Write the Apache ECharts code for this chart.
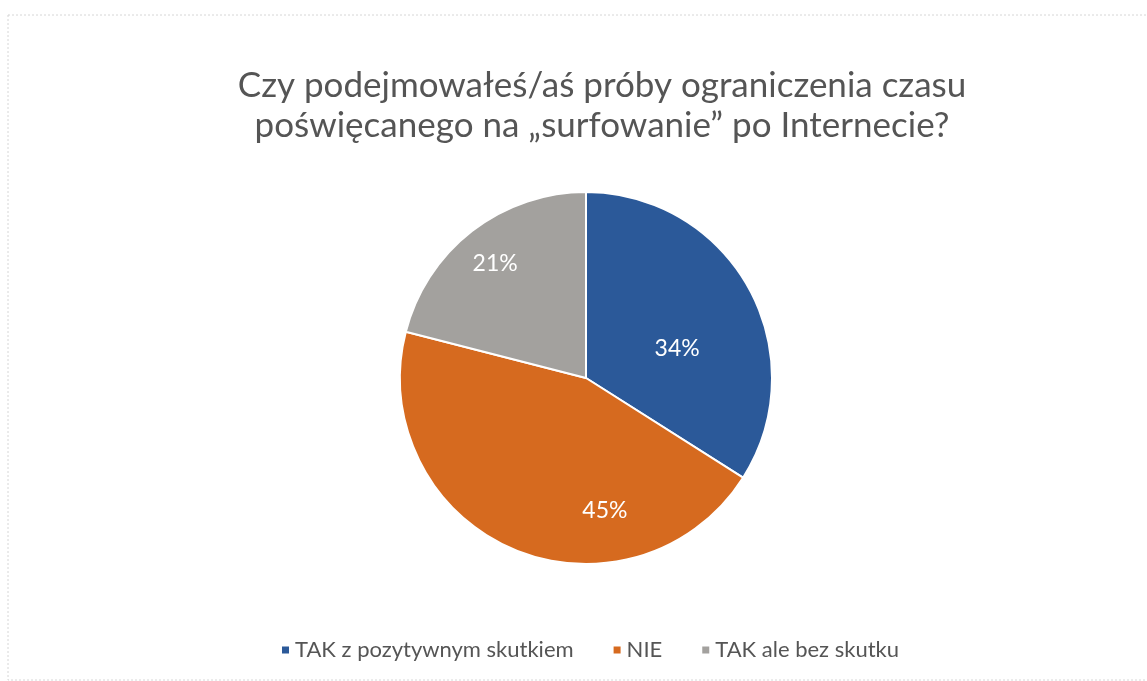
<!DOCTYPE html>
<html>
<head>
<meta charset="utf-8">
<script src="https://cdn.jsdelivr.net/npm/echarts@6/dist/echarts.min.js"></script>
<style>
  html, body { margin: 0; padding: 0; background: #fff; }
  #chart { width: 1147px; height: 681px; }
</style>
</head>
<body>
<div id="chart"></div>
<script>
const titleText = 'Czy podejmowałeś/aś próby ograniczenia czasu\npoświęcanego na „surfowanie” po Internecie?';
const categories = ['TAK z pozytywnym skutkiem', 'NIE', 'TAK ale bez skutku'];
const values = [34, 45, 21];
const colors = ['#2b5999', '#d66a1f', '#a3a19e'];

// label nudges to mimic Excel "best fit" placement
const labelShift = [[7, 17], [57, 44], [-32, -39]];

const chart = echarts.init(document.getElementById('chart'));

let pieData = [];
for (let i = 0; i < categories.length; i++) {
    pieData.push({ name: categories[i], value: values[i] });
}

chart.setOption({
    backgroundColor: '#fff',
    color: colors,
    title: {
        text: titleText,
        left: 597,
        top: 61,
        textAlign: 'center',
        textStyle: {
            fontFamily: 'Lato',
            fontWeight: 'normal',
            fontSize: 35,
            lineHeight: 40,
            color: '#555'
        }
    },
    legend: {
        data: categories,
        left: 275,
        top: 634,
        icon: 'rect',
        itemWidth: 9,
        itemHeight: 9,
        itemGap: 38,
        textStyle: {
            fontFamily: 'Lato',
            fontSize: 22,
            color: '#555'
        }
    },
    graphic: [
        {
            type: 'rect',
            shape: { x: 8, y: 15, width: 1150, height: 665 },
            style: { fill: 'none', stroke: '#d6d6d6', lineWidth: 1, lineDash: [2, 2] },
            silent: true
        }
    ],
    series: [
        {
            type: 'pie',
            center: [586, 378],
            radius: 186,
            startAngle: 90,
            clockwise: true,
            data: pieData,
            itemStyle: {
                borderColor: '#fff',
                borderWidth: 2
            },
            label: {
                position: 'inside',
                formatter: '{c}%',
                fontFamily: 'Lato',
                fontSize: 23,
                color: '#fff'
            },
            labelLayout: function (params) {
                let s = labelShift[params.dataIndex];
                return { dx: s[0], dy: s[1] };
            },
            labelLine: { show: false },
            emphasis: { disabled: true }
        }
    ]
});
</script>
</body>
</html>
